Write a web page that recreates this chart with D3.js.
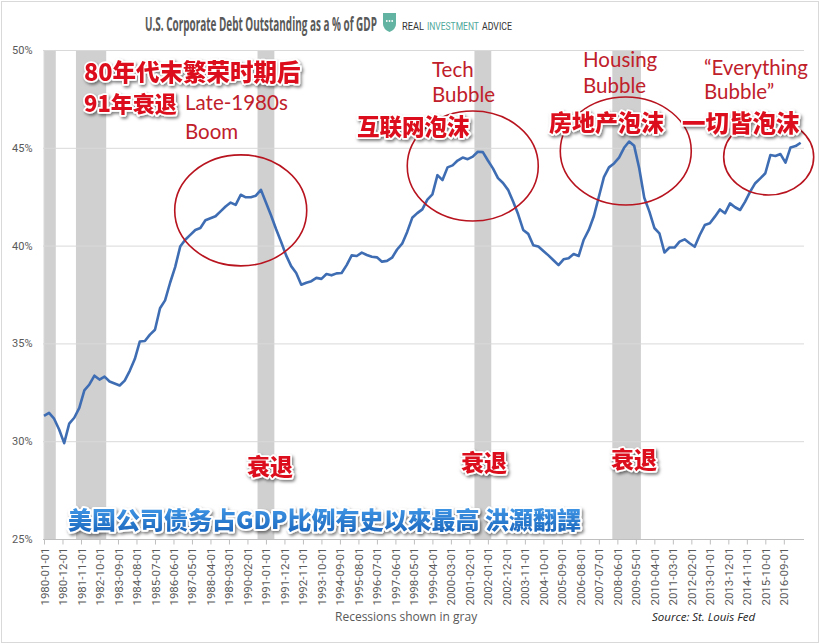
<!DOCTYPE html>
<html><head><meta charset="utf-8">
<script src="https://cdn.jsdelivr.net/npm/d3@7"></script>
<style>
html,body{margin:0;padding:0;background:#fff;}
svg{display:block;}
</style></head>
<body>
<svg id="chart" width="820" height="644"></svg>
<script>
// ---------------- DATA ----------------
const startYear = 1980; // first quarterly observation: 1980-01-01
const debtPctGDP = [
31.3,31.45,31.15,30.6,29.9,30.9,31.2,31.7,32.6,32.9,
33.35,33.15,33.3,33.05,32.95,32.85,33.1,33.6,34.2,35.1,
35.12,35.45,35.7,36.8,37.2,38.1,38.9,39.95,40.3,40.55,
40.8,40.9,41.3,41.4,41.5,41.75,42.0,42.2,42.08,42.6,
42.47,42.47,42.55,42.85,42.2,41.55,40.85,40.2,39.5,38.95,
38.6,38.0,38.1,38.18,38.35,38.3,38.55,38.48,38.58,38.6,
39.0,39.5,39.47,39.64,39.52,39.43,39.4,39.18,39.22,39.38,
39.8,40.1,40.7,41.42,41.66,41.85,42.35,42.62,43.6,43.35,
44.0,44.1,44.35,44.5,44.42,44.55,44.8,44.78,44.35,43.95,
43.45,43.2,42.85,42.25,41.6,40.8,40.6,40.02,39.95,39.72,
39.5,39.25,39.0,39.3,39.35,39.57,39.47,40.3,40.8,41.5,
42.5,43.5,44.0,44.2,44.5,45.0,45.32,45.1,43.95,42.45,
41.75,40.9,40.63,39.65,39.9,39.9,40.2,40.32,40.12,39.94,
40.54,41.05,41.14,41.48,41.85,41.65,42.16,41.96,41.82,42.25,
42.76,43.19,43.44,43.7,44.63,44.58,44.68,44.24,45.02,45.09,
45.26];
const tickLabels = ["1980-01-01","1980-12-01","1981-11-01","1982-10-01","1983-09-01","1984-08-01",
"1985-07-01","1986-06-01","1987-05-01","1988-04-01","1989-03-01","1990-02-01","1991-01-01",
"1991-12-01","1992-11-01","1993-10-01","1994-09-01","1995-08-01","1996-07-01","1997-06-01",
"1998-05-01","1999-04-01","2000-03-01","2001-02-01","2002-01-01","2002-12-01","2003-11-01",
"2004-10-01","2005-09-01","2006-08-01","2007-07-01","2008-06-01","2009-05-01","2010-04-01",
"2011-03-01","2012-02-01","2013-01-01","2013-12-01","2014-11-01","2015-10-01","2016-09-01"];
const yTicks = [25,30,35,40,45,50];
const recessions = [["1980-01","1980-08"],["1981-08","1983-02"],["1990-08","1991-06"],["2001-05","2002-03"],["2008-03","2009-08"]];
// bubble annotations: center date / value
const bubbles = [
  {date:"1989-10", value:41.8, rx:66, ry:55.5},
  {date:"2001-04", value:44.07, rx:65.5, ry:55},
  {date:"2008-11", value:44.84, rx:65.5, ry:54},
  {date:"2015-12", value:44.53, rx:45, ry:38}
];

// ---------------- HELPERS ----------------
const monthIndex = s => { const [y,m] = s.split("-").map(Number); return (y-startYear)*12 + (m-1); };
const points = debtPctGDP.map((v,i)=>({m:i*3, v}));

const svg = d3.select("#chart");
const W=820,H=644;
const x = d3.scaleLinear().domain([0, 452]).range([44, 804]);
const y = d3.scaleLinear().domain([25,50]).range([539, 50]);

const defs = svg.append("defs");
const sh = defs.append("filter").attr("id","shadow").attr("x","-10%").attr("y","-30%").attr("width","130%").attr("height","170%");
sh.append("feDropShadow").attr("dx",1.5).attr("dy",2).attr("stdDeviation",1.5).attr("flood-color","#000").attr("flood-opacity",0.5);
const grad = defs.append("linearGradient").attr("id","blueGrad").attr("x1",0).attr("y1",0).attr("x2",0).attr("y2",1);
grad.append("stop").attr("offset","0%").attr("stop-color","#4aa3f0");
grad.append("stop").attr("offset","100%").attr("stop-color","#1660b8");

// outer border
svg.append("rect").attr("x",1.5).attr("y",1.5).attr("width",W-3).attr("height",H-3)
  .attr("fill","#fff").attr("stroke","#d9d9d9").attr("stroke-width",1);

// recession bars
svg.append("g").selectAll("rect").data(recessions).join("rect")
  .attr("x", d=>x(monthIndex(d[0])))
  .attr("width", d=>x(monthIndex(d[1]))-x(monthIndex(d[0])))
  .attr("y", y(50)).attr("height", y(25)-y(50))
  .attr("fill","#d0d0d0");

// gridlines
svg.append("g").selectAll("line").data(yTicks.filter(t=>t>25)).join("line")
  .attr("x1", 43).attr("x2", 804)
  .attr("y1", d=>y(d)+0.5).attr("y2", d=>y(d)+0.5)
  .attr("stroke","#d9d9d9").attr("stroke-width",1);

// y axis
const yAxis = svg.append("g").attr("transform","translate(43.5,0)")
  .call(d3.axisLeft(y).tickValues(yTicks).tickSize(0).tickPadding(11).tickFormat(d=>d+"%"));
yAxis.select(".domain").attr("stroke","#d9d9d9");
yAxis.selectAll("text").attr("fill","#595959").style("font-family","Roboto, 'Open Sans', sans-serif").style("font-size","11px");

// x axis
const xAxis = svg.append("g").attr("transform",`translate(0,${y(25)+0.5})`)
  .call(d3.axisBottom(x).tickValues(tickLabels.map(monthIndex)).tickSize(5)
    .tickFormat((d,i)=>tickLabels[i]));
xAxis.select(".domain").attr("stroke","#bfbfbf").attr("d","M43,0H804");
xAxis.selectAll(".tick line").attr("stroke","#bfbfbf");
xAxis.selectAll("text")
  .attr("fill","#595959").style("font-family","'Liberation Sans Narrow', Roboto, sans-serif").style("font-size","11.5px")
  .attr("text-anchor","end").attr("transform","rotate(-90)")
  .attr("x",-8).attr("y",0).attr("dy","0.35em");

// line
svg.append("path").datum(points)
  .attr("d", d3.line().x(d=>x(d.m)).y(d=>y(d.v)))
  .attr("fill","none").attr("stroke","#3f6db3").attr("stroke-width",2.6).attr("stroke-linejoin","round");

// bubbles
svg.append("g").selectAll("ellipse").data(bubbles).join("ellipse")
  .attr("cx", d=>x(monthIndex(d.date))).attr("cy", d=>y(d.value))
  .attr("rx", d=>d.rx).attr("ry", d=>d.ry)
  .attr("fill","none").attr("stroke","#b8141f").attr("stroke-width",1.6);

// helper: text squeezed horizontally to a target width via transform
function fitText(t, x0, y0, width, styleFn){
  const el = svg.append("text").attr("x",0).attr("y",0).text(t);
  styleFn(el);
  const w = el.node().getComputedTextLength();
  el.attr("transform",`translate(${x0},${y0}) scale(${width/w},1)`);
  return el;
}

// title + logo
fitText("U.S. Corporate Debt Outstanding as a % of GDP", 145, 31, 232, el=>el
  .attr("fill","#595959").style("font-family","'Liberation Sans Narrow', 'Open Sans', sans-serif")
  .style("font-weight","700").style("font-size","19px"));
svg.append("path").attr("d","M383,13 L396,13 L396,24 Q396,29 389.5,32 Q383,29 383,24 Z").attr("fill","#62b3a2");
svg.append("g").selectAll("circle").data([386.8,389.5,392.2]).join("circle")
  .attr("cx",d=>d).attr("cy",21).attr("r",0.9).attr("fill","#fff");
const logoParts = [["REAL",402,22,"#333"],["INVESTMENT",427,52,"#4fa89a"],["ADVICE",482,30,"#333"]];
logoParts.forEach(p=>{
  fitText(p[0], p[1], 29.5, p[2], el=>el.attr("fill",p[3])
    .style("font-family","Roboto, 'Open Sans', sans-serif").style("font-size","11px"));
});

// annotations
const cnFont = "'Noto Sans CJK SC', sans-serif";
const enFont = "Lato, 'Open Sans', sans-serif";
function cnLabel(t, xx, yy, size){
  svg.append("text").attr("x",xx).attr("y",yy).text(t)
    .attr("fill","#dc111c").attr("stroke","#fff").attr("stroke-width",3.5).attr("paint-order","stroke")
    .attr("stroke-linejoin","round")
    .style("font-family",cnFont).style("font-weight","900").style("font-size",size+"px")
    .attr("filter","url(#shadow)");
}
function enLabel(t, xx, yy, size){
  svg.append("text").attr("x",xx).attr("y",yy).text(t)
    .attr("fill","#c0202a")
    .style("font-family",enFont).style("font-size",size+"px");
}
const es = 20.5;
cnLabel("80年代末繁荣时期后", 84, 81, 23.5);
cnLabel("91年衰退", 84, 112, 22);
enLabel("Late-1980s", 185, 110, es);
enLabel("Boom", 185, 139, es);
enLabel("Tech", 432, 77, es);
enLabel("Bubble", 432, 102, es);
cnLabel("互联网泡沫", 357, 135, 22.5);
enLabel("Housing", 583, 67, es);
enLabel("Bubble", 583, 93, es);
cnLabel("房地产泡沫", 549, 131, 23);
enLabel("\u201CEverything", 704, 75, es);
enLabel("Bubble\u201D", 704, 99, es);
cnLabel("一切皆泡沫", 682, 132, 23.5);
cnLabel("衰退", 247, 475, 23);
cnLabel("衰退", 461, 471, 23);
cnLabel("衰退", 611, 468, 23);

svg.append("text").attr("x",68).attr("y",529).text("美国公司债务占GDP比例有史以來最高 洪灝翻譯")
  .attr("fill","url(#blueGrad)").attr("stroke","#fff").attr("stroke-width",4).attr("paint-order","stroke")
  .attr("stroke-linejoin","round")
  .style("font-family",cnFont).style("font-weight","900").style("font-size","24px")
  .attr("filter","url(#shadow)");

// footer
svg.append("text").attr("x",335).attr("y",621).text("Recessions shown in gray")
  .attr("fill","#595959").style("font-family","'Open Sans', sans-serif").style("font-size","12px");
svg.append("text").attr("x",652).attr("y",621).text("Source: St. Louis Fed")
  .attr("fill","#222").style("font-family","'Open Sans', sans-serif").style("font-size","11.5px").style("font-style","italic");
</script>
</body></html>
